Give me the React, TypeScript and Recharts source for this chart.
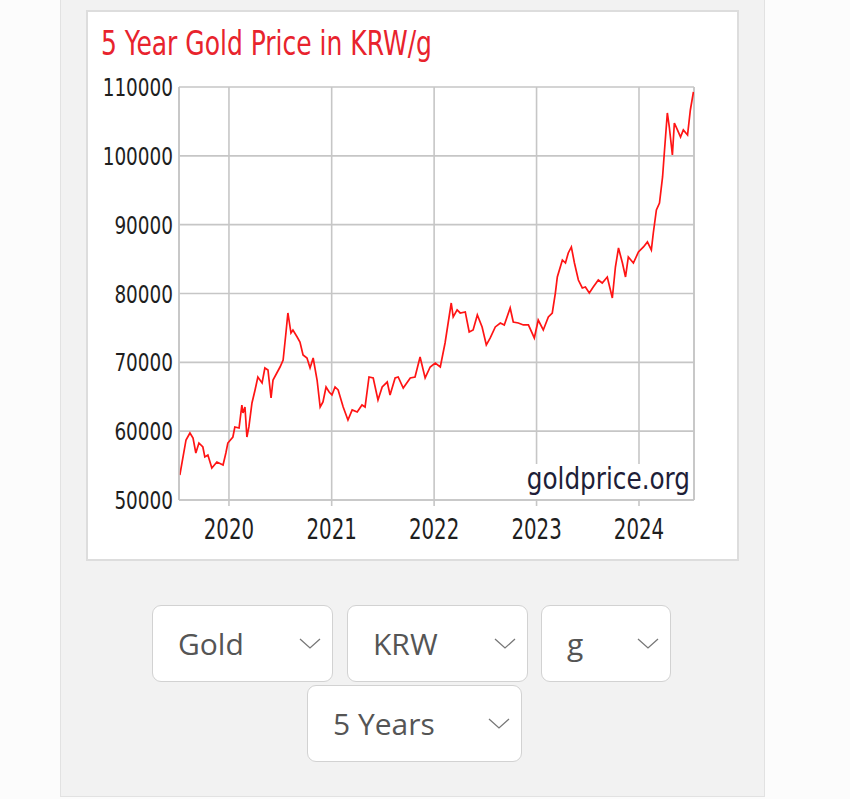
import React from "react";
import { LineChart, Line, XAxis, YAxis, CartesianGrid, ReferenceLine } from "recharts";

const titleText = "5 Year Gold Price in KRW/g";
const watermarkText = "goldprice.org";

const yearLabels = ["2020", "2021", "2022", "2023", "2024"];
const yTickValues = [50000, 60000, 70000, 80000, 90000, 100000, 110000];
const rangeStart = "2019-07-07";
const rangeEnd = "2024-07-15";

const dates = [
  "2019-07-10", "2019-08-01", "2019-08-15", "2019-08-26", "2019-09-05", "2019-09-16", "2019-09-30",
  "2019-10-07", "2019-10-18", "2019-11-01", "2019-11-19", "2019-12-11", "2019-12-21", "2019-12-28",
  "2020-01-15", "2020-01-22", "2020-02-06", "2020-02-16", "2020-02-20", "2020-02-27", "2020-03-05",
  "2020-03-12", "2020-03-23", "2020-04-03", "2020-04-13", "2020-04-28", "2020-05-08", "2020-05-19",
  "2020-05-30", "2020-06-06", "2020-07-01", "2020-07-12", "2020-07-22", "2020-07-29", "2020-08-09",
  "2020-08-16", "2020-08-31", "2020-09-10", "2020-09-21", "2020-10-05", "2020-10-16", "2020-10-27",
  "2020-11-10", "2020-11-21", "2020-12-01", "2020-12-12", "2020-12-23", "2021-01-02", "2021-01-13",
  "2021-01-24", "2021-02-11", "2021-02-28", "2021-03-15", "2021-04-02", "2021-04-19", "2021-04-30",
  "2021-05-14", "2021-05-29", "2021-06-15", "2021-06-30", "2021-07-18", "2021-07-28", "2021-08-15",
  "2021-08-26", "2021-09-13", "2021-10-08", "2021-10-25", "2021-11-12", "2021-11-30", "2021-12-18",
  "2022-01-05", "2022-01-23", "2022-02-09", "2022-03-03", "2022-03-10", "2022-03-24", "2022-04-04",
  "2022-04-22", "2022-05-06", "2022-05-20", "2022-06-04", "2022-06-21", "2022-07-06", "2022-07-20",
  "2022-08-07", "2022-08-25", "2022-09-08", "2022-09-29", "2022-10-10", "2022-10-28", "2022-11-15",
  "2022-12-03", "2022-12-24", "2023-01-07", "2023-01-25", "2023-02-12", "2023-02-26", "2023-03-09",
  "2023-03-16", "2023-04-03", "2023-04-14", "2023-04-24", "2023-05-05", "2023-05-16", "2023-05-30",
  "2023-06-13", "2023-06-24", "2023-07-08", "2023-07-22", "2023-08-09", "2023-08-23", "2023-09-10",
  "2023-09-28", "2023-10-09", "2023-10-20", "2023-11-03", "2023-11-14", "2023-11-24", "2023-12-12",
  "2023-12-30", "2024-01-17", "2024-01-31", "2024-02-14", "2024-02-21", "2024-03-03", "2024-03-14",
  "2024-03-25", "2024-04-01", "2024-04-11", "2024-04-18", "2024-04-29", "2024-05-06", "2024-05-17",
  "2024-05-28", "2024-06-07", "2024-06-22", "2024-07-02", "2024-07-13",
];

const prices = [
  53630, 58720, 59730, 59010, 56830, 58280, 57700,
  56250, 56540, 54650, 55520, 55090, 56830, 58280,
  59150, 60610, 60460, 63800, 62640, 63510, 59150,
  60610, 64090, 65980, 67870, 67000, 69180, 68890,
  64820, 67430, 69320, 70340, 74260, 77170, 74260,
  74700, 73680, 72960, 71070, 70630, 69180, 70630,
  67430, 63510, 64240, 66420, 65690, 65260, 66420,
  65980, 63510, 61620, 63080, 62790, 63800, 63510,
  67870, 67730, 64530, 66420, 67140, 65260, 67730,
  67870, 66270, 67730, 67870, 70780, 67730, 69320,
  69900, 69320, 72810, 78620, 76590, 77610, 77170,
  77320, 74410, 74700, 76880, 75140, 72520, 73540,
  75140, 75720, 75430, 77900, 75860, 75720, 75430,
  75430, 73540, 76150, 74700, 76590, 77170, 80070,
  82400, 84870, 84430, 85890, 86760, 84430, 81960,
  80800, 80950, 80070, 80950, 81960, 81530, 82400,
  79350, 83850, 86610, 84430, 82400, 85310, 84430,
  86030, 86760, 87490, 86320, 88790, 92130, 93150,
  96930, 100850, 106230, 104190, 100120, 104770, 103760,
  102740, 103760, 103030, 106660, 109280,
];

const selectOptions = ["Gold", "KRW", "g", "5 Years"];

const toTs = (s: string) => {
  const [y, m, d] = s.split("-").map(Number);
  return Date.UTC(y, m - 1, d);
};

const data = dates.map((d, i) => ({ t: toTs(d), v: prices[i] }));
const xMin = toTs(rangeStart);
const xMax = toTs(rangeEnd);
const xTicks = yearLabels.map((y) => Date.UTC(Number(y), 0, 1));

const GRID = "#c6c6c6";
const FONT = "'DejaVu Sans Condensed', 'DejaVu Sans', sans-serif";

const CH_LEFT = 86;
const CH_TOP = 10;

const XTick = (props: any) => {
  const { x, payload } = props;
  const year = new Date(payload.value).getUTCFullYear();
  return (
    <text
      transform={`translate(${x},529) scale(1,1.28)`}
      x={0}
      y={0}
      textAnchor="middle"
      fontSize={22}
      fontFamily={FONT}
      fill="#1e1e1e"
    >
      {String(year)}
    </text>
  );
};

const YTick = (props: any) => {
  const { y, payload } = props;
  return (
    <text
      transform={`translate(87,${y + 9}) scale(1,1.2)`}
      x={0}
      y={0}
      textAnchor="end"
      fontSize={20.5}
      fontFamily={FONT}
      fill="#1e1e1e"
    >
      {String(payload.value)}
    </text>
  );
};

const Chevron = () => (
  <svg width={24} height={14} style={{ position: "absolute", right: 10, top: 31 }}>
    <polyline points="2,2 12,11 22,2" fill="none" stroke="#777777" strokeWidth={1.3} />
  </svg>
);

const SelectBox = ({ left, top, width, label }: { left: number; top: number; width: number; label: string }) => (
  <div
    style={{
      position: "absolute",
      left,
      top,
      width,
      height: 77,
      boxSizing: "border-box",
      border: "1.5px solid #d2d2d2",
      borderRadius: 9,
      background: "#ffffff",
      display: "flex",
      alignItems: "center",
      paddingLeft: 25,
      fontFamily: "'Open Sans', sans-serif",
      fontSize: 30,
      color: "#555555",
    }}
  >
    <span>{label}</span>
    <Chevron />
  </div>
);

export default function App() {
  return (
    <div style={{ position: "fixed", left: 0, top: 0, width: 850, height: 799, background: "#fcfcfc", overflow: "hidden" }}>
      <div
        style={{
          position: "absolute",
          left: 60,
          top: -2,
          width: 705,
          height: 799,
          boxSizing: "border-box",
          background: "#f2f2f2",
          borderLeft: "1.5px solid #e2e2e2",
          borderRight: "1.5px solid #e2e2e2",
          borderBottom: "1.5px solid #e2e2e2",
        }}
      />
      <div
        style={{
          position: "absolute",
          left: CH_LEFT,
          top: CH_TOP,
          width: 653,
          height: 551,
          boxSizing: "border-box",
          background: "#ffffff",
          border: "2px solid #dddddd",
        }}
      />
      <div style={{ position: "absolute", left: CH_LEFT, top: CH_TOP }}>
        <LineChart width={653} height={551} data={data} margin={{ top: 77, right: 45, bottom: 21, left: 13 }}>
          <CartesianGrid stroke={GRID} strokeWidth={1.6} />
          <XAxis
            dataKey="t"
            type="number"
            domain={[xMin, xMax]}
            ticks={xTicks}
            allowDataOverflow
            height={40}
            axisLine={{ stroke: GRID, strokeWidth: 1.6 }}
            tickLine={{ stroke: GRID, strokeWidth: 1.6 }}
            tickSize={6}
            tick={XTick}
            interval={0}
          />
          <YAxis
            type="number"
            domain={[50000, 110000]}
            ticks={yTickValues}
            allowDataOverflow
            width={80}
            axisLine={{ stroke: GRID, strokeWidth: 1.6 }}
            tickLine={false}
            tick={YTick}
            interval={0}
          />
          <ReferenceLine x={xMax} stroke={GRID} strokeWidth={1.6} ifOverflow="extendDomain" />
          <Line
            type="linear"
            dataKey="v"
            stroke="#ff1414"
            strokeWidth={1.7}
            dot={false}
            activeDot={false}
            isAnimationActive={false}
          />
        </LineChart>
      </div>
      <svg width={850} height={799} style={{ position: "absolute", left: 0, top: 0, pointerEvents: "none" }}>
        <text transform="translate(101,55) scale(1,1.2)" x={0} y={0} fontSize={27.8} fontFamily={FONT} fill="#e8232d">
          {titleText}
        </text>
        <rect x={523} y={464} width={169} height={35} fill="#ffffff" />
        <text transform="translate(690,489) scale(1,1.1)" x={0} y={0} textAnchor="end" fontSize={27.5} fontFamily={FONT} fill="#1e1e38">
          {watermarkText}
        </text>
      </svg>
      <SelectBox left={152} top={605} width={181} label={selectOptions[0]} />
      <SelectBox left={347} top={605} width={181} label={selectOptions[1]} />
      <SelectBox left={541} top={605} width={130} label={selectOptions[2]} />
      <SelectBox left={307} top={685} width={215} label={selectOptions[3]} />
    </div>
  );
}
